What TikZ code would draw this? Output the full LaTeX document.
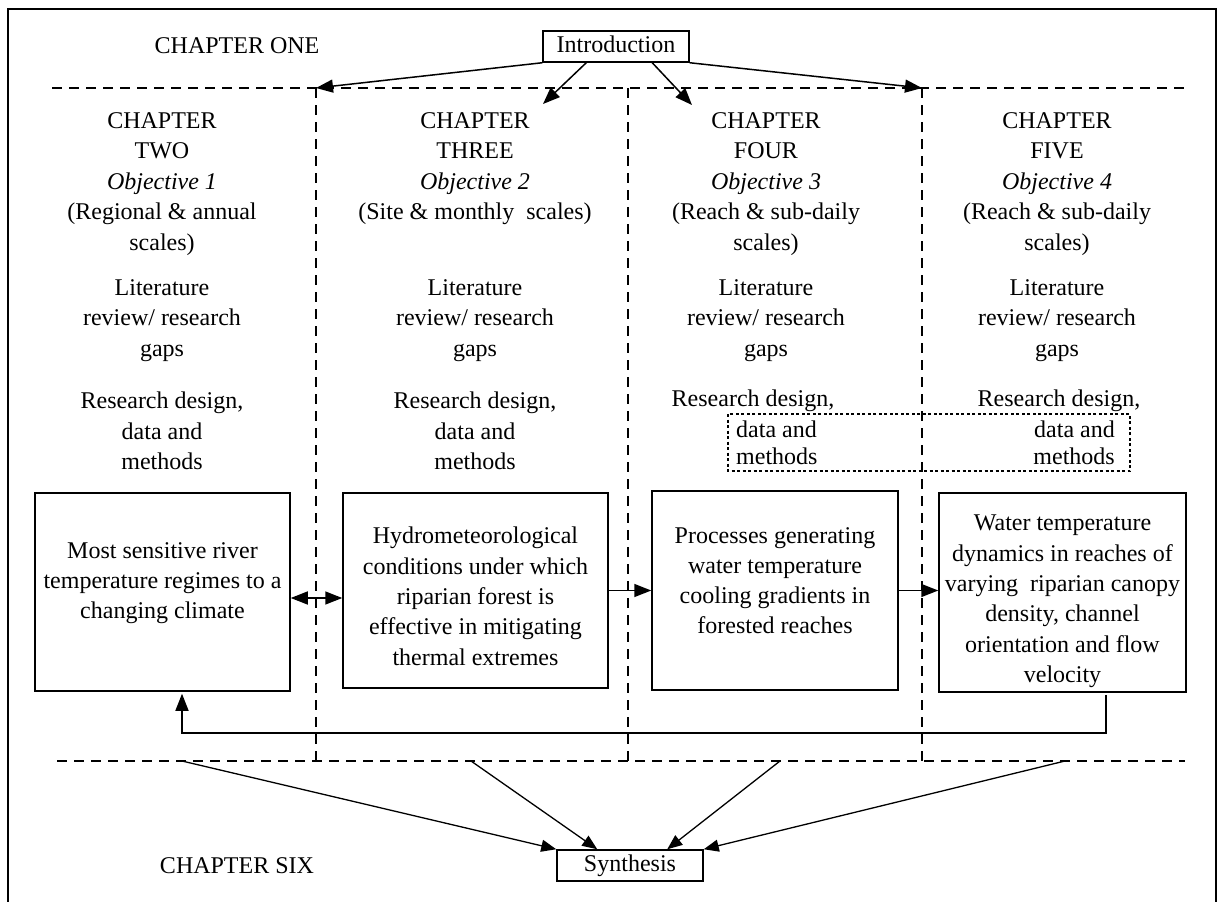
\documentclass[tikz,border=0pt]{standalone}
\usepackage{fontspec}
\setmainfont{Liberation Serif}
\usetikzlibrary{arrows.meta}
\begin{document}
\begin{tikzpicture}[x=1pt,y=-1pt,
  every node/.style={font=\fontsize{24}{30.5}\selectfont, inner sep=0pt},
  txt/.style={align=center, anchor=north},
  btxt/.style={align=center, anchor=north, font=\fontsize{24}{30.3}\selectfont},
  boxnode/.style={draw, line width=1.5pt},
  smallbox/.style={draw, line width=1.5pt, minimum width=146pt, minimum height=31pt, text height=16pt, text depth=5pt},
  sep/.style={line width=1.5pt, dash pattern=on 10pt off 7pt},
  vsep/.style={line width=1.2pt, dash pattern=on 10pt off 7pt},
  arr/.style={line width=1.5pt, -{Triangle[length=17pt,width=13pt]}},
  thinarr/.style={line width=1.3pt, -{Triangle[length=15pt,width=12pt]}},
  dotbox/.style={line width=1.3pt, dash pattern=on 3pt off 2.5pt}
]
\useasboundingbox (0,0) rectangle (1219,902);
% frame
\draw[line width=1.5pt] (8,910) -- (8,9) -- (1216,9) -- (1216,910);

% separators
\draw[sep] (52,88) -- (1185,88);
\draw[sep] (57,761) -- (1185,761);
\draw[vsep] (316,88) -- (316,761);
\draw[vsep] (628,88) -- (628,761);
\draw[vsep] (922,88) -- (922,761);

% chapter one / six
\node (ch1) at (237,46) {CHAPTER ONE};
\node (ch6) at (237,866) {CHAPTER SIX};
\node[smallbox] (intro) at (616,46.5) {Introduction};
\node[smallbox] (synth) at (630,865.5) {Synthesis};

% column texts
\node[txt] (h1) at (162,112) {CHAPTER\\TWO\\\textit{Objective 1}\\(Regional \& annual\\scales)};
\node[txt] (l1) at (162,279) {Literature\\review/ research\\gaps};
\node[txt] (r1) at (162,392) {Research design,\\data and\\methods};

\node[txt] (h2) at (475,112) {CHAPTER\\THREE\\\textit{Objective 2}\\(Site \& monthly\ \ scales)};
\node[txt] (l2) at (475,279) {Literature\\review/ research\\gaps};
\node[txt] (r2) at (475,392) {Research design,\\data and\\methods};

\node[txt] (h3) at (766,112) {CHAPTER\\FOUR\\\textit{Objective 3}\\(Reach \& sub-daily\\scales)};
\node[txt] (l3) at (766,279) {Literature\\review/ research\\gaps};
\node[txt] (r3) at (753,390) {Research design,};
\node[align=left, anchor=north west, font=\fontsize{24}{27}\selectfont] (d3) at (736,421) {data and\\methods};

\node[txt] (h4) at (1057,112) {CHAPTER\\FIVE\\\textit{Objective 4}\\(Reach \& sub-daily\\scales)};
\node[txt] (l4) at (1057,279) {Literature\\review/ research\\gaps};
\node[txt] (r4) at (1059,390) {Research design,};
\node[align=right, anchor=north east, font=\fontsize{24}{27}\selectfont] (d4) at (1115,421) {data and\\methods};

% dotted box
\draw[dotbox] (728,414) rectangle (1130,471);

% main boxes
\node[boxnode, minimum width=255pt, minimum height=198pt] (b1) at (162.5,592) {};
\node[boxnode, minimum width=265pt, minimum height=195pt] (b2) at (475.5,590.5) {};
\node[boxnode, minimum width=246pt, minimum height=199pt] (b3) at (775,590.5) {};
\node[boxnode, minimum width=247pt, minimum height=199pt] (b4) at (1062.5,592.5) {};

\node[btxt] (t1) at (162.5,542) {Most sensitive river\\temperature regimes to a\\changing climate};
\node[btxt] (t2) at (475.5,527) {Hydrometeorological\\conditions under which\\riparian forest is\\effective in mitigating\\thermal extremes};
\node[btxt] (t3) at (775,527) {Processes generating\\water temperature\\cooling gradients in\\forested reaches};
\node[btxt] (t4) at (1062.5,515) {Water temperature\\dynamics in reaches of\\varying\ \ riparian canopy\\density, channel\\orientation and flow\\velocity};

% arrows from introduction
\coordinate (a1) at (316,88);
\coordinate (a2) at (543,104);
\coordinate (a3) at (692,105);
\coordinate (a4) at (922,88);
\draw[arr] (intro.south west) -- (a1);
\draw[arr] ([xshift=44pt]intro.south west) -- (a2);
\draw[arr] ([xshift=110pt]intro.south west) -- (a3);
\draw[arr] (intro.south east) -- (a4);

% arrows between boxes
\draw[line width=1.5pt, {Triangle[length=17pt,width=13pt]}-{Triangle[length=17pt,width=13pt]}] ([yshift=-6pt]b1.east) -- ([yshift=-6pt]b1.east -| b2.west);
\draw[arr] (b2.east) -- (b2.east -| b3.west);
\draw[arr] (b3.east) -- (b3.east -| b4.west);

% feedback
\coordinate (f1) at (1106,733);
\coordinate (f2) at (182,733);
\draw[arr] ([yshift=-2pt]b4.south -| f1) -- (f1) -- (f2) -- ([yshift=-2pt]b1.south -| f2);

% arrows to synthesis
\coordinate (s1) at (182,761);
\coordinate (s2) at (471,761);
\coordinate (s3) at (780,761);
\coordinate (s4) at (1065,761);
\draw[thinarr] (s1) -- (synth.north west);
\draw[thinarr] (s2) -- ([xshift=41pt]synth.north west);
\draw[thinarr] (s3) -- ([xshift=111pt]synth.north west);
\draw[thinarr] (s4) -- (synth.north east);
\end{tikzpicture}
\end{document}
